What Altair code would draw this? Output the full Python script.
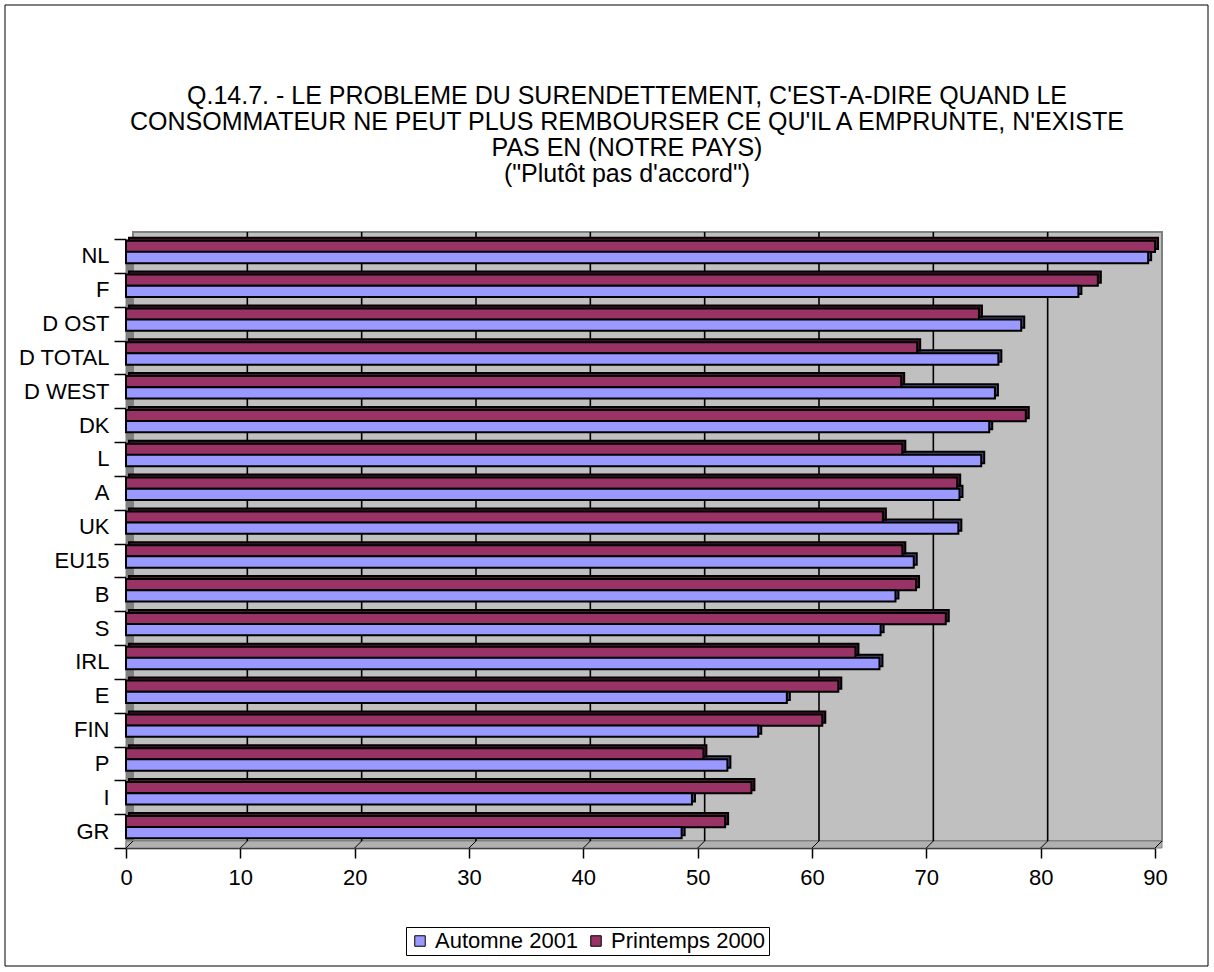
import altair as alt
import pandas as pd

# Survey answers, in percent
categories = ["NL", "F", "D OST", "D TOTAL", "D WEST", "DK", "L", "A", "UK",
              "EU15", "B", "S", "IRL", "E", "FIN", "P", "I", "GR"]
automne_2001 = [89.4, 83.3, 78.3, 76.3, 76.0, 75.5, 74.8, 72.9, 72.8,
                68.9, 67.3, 66.0, 65.9, 57.8, 55.3, 52.6, 49.5, 48.6]
printemps_2000 = [90.0, 85.0, 74.6, 69.2, 67.8, 78.7, 67.9, 72.7, 66.2,
                  67.9, 69.1, 71.7, 63.8, 62.3, 60.9, 50.5, 54.7, 52.4]
series_names = ["Automne 2001", "Printemps 2000"]
series_colors = ["#9999FF", "#993366"]
series_shades = ["#4D4D80", "#4D1A33"]
axis_ticks = [0, 10, 20, 30, 40, 50, 60, 70, 80, 90]

title_lines = [
    "Q.14.7. - LE PROBLEME DU SURENDETTEMENT, C'EST-A-DIRE QUAND LE",
    "CONSOMMATEUR NE PEUT PLUS REMBOURSER CE QU'IL A EMPRUNTE, N'EXISTE",
    "PAS EN (NOTRE PAYS)",
    "(\"Plutôt pas d'accord\")",
]

FONT = "Liberation Sans"
W, H = 1029, 609          # front plane of the plot
DEPTH = 7                 # 3-D depth of the back wall
BAR_H = 11.3              # thickness of one bar
SHIFT = 3                 # depth of a bar

rows = []
for cat, a, p in zip(categories, automne_2001, printemps_2000):
    rows.append({"pays": cat, "serie": series_names[0], "valeur": a})
    rows.append({"pays": cat, "serie": series_names[1], "valeur": p})
df = pd.DataFrame(rows)

x_scale = alt.Scale(domain=[0, 90], nice=False, zero=True)
y_scale = alt.Scale(domain=categories, paddingInner=0, paddingOuter=0)
color_scale = alt.Scale(domain=series_names, range=series_colors)

x_axis = alt.Axis(
    values=axis_ticks, title=None, grid=False, domainColor="black",
    domainWidth=1.5, tickColor="black", tickWidth=1.5, tickSize=10,
    labelFont=FONT, labelFontSize=22, labelColor="black", labelPadding=9,
    labelFlush=False,
)
y_axis = alt.Axis(
    title=None, grid=False, domainColor="black", domainWidth=1.5,
    tickColor="black", tickWidth=1.5, tickSize=12, tickBand="extent",
    labelFont=FONT, labelFontSize=22, labelColor="black", labelPadding=5,
)

one = pd.DataFrame({"k": [0]})

# outer frame around the whole figure
frame = alt.Chart(one).mark_rect(fillOpacity=0, stroke="black", strokeWidth=1).encode(
    x=alt.value(-121), x2=alt.value(1082), y=alt.value(-234), y2=alt.value(727)
)

# chart heading, centred above the plot
heading = alt.Chart(one).mark_text(
    text=title_lines, font=FONT, fontSize=25, lineHeight=26,
    align="center", baseline="top", color="black",
).encode(x=alt.value(501), y=alt.value(-155))

# back wall, left wall and floor of the 3-D box
wall = alt.Chart(one).mark_rect(fill="#C0C0C0", stroke="#808080", strokeWidth=2).encode(
    x=alt.value(DEPTH), x2=alt.value(W + DEPTH), y=alt.value(-DEPTH), y2=alt.value(H - DEPTH)
)
side = alt.Chart(one).mark_rect(fill="#808080").encode(
    x=alt.value(0), x2=alt.value(DEPTH), y=alt.value(0), y2=alt.value(H - DEPTH)
)
floor = alt.Chart(one).mark_rect(fill="#B0B0B0", stroke="#808080", strokeWidth=1).encode(
    x=alt.value(0), x2=alt.value(W + DEPTH), y=alt.value(H - DEPTH), y2=alt.value(H)
)

ticks_df = pd.DataFrame({"t": axis_ticks})
grid = alt.Chart(ticks_df[(ticks_df.t > 0) & (ticks_df.t < 90)]).mark_rule(
    color="black", strokeWidth=1.6, xOffset=DEPTH
).encode(
    x=alt.X("t:Q", scale=x_scale, axis=x_axis),
    y=alt.value(-DEPTH), y2=alt.value(H - DEPTH),
)
floor_ticks = alt.Chart(ticks_df).mark_rule(
    color="black", strokeWidth=1, x2Offset=DEPTH
).encode(
    x=alt.X("t:Q", scale=x_scale, axis=x_axis), x2="t:Q",
    y=alt.value(H), y2=alt.value(H - DEPTH),
)

offsets = {series_names[1]: -9.55, series_names[0]: 1.6}


def bar_layer(name, front):
    off = offsets[name]
    idx = series_names.index(name)
    base = alt.Chart(df).transform_filter(alt.datum.serie == name)
    enc = dict(
        x=alt.X("valeur:Q", scale=x_scale, axis=x_axis),
        y=alt.Y("pays:N", scale=y_scale, sort=categories, axis=y_axis),
    )
    if front:
        mark = base.mark_bar(
            height=BAR_H, yOffset=off, y2Offset=off,
            stroke="black", strokeWidth=2,
        )
        return mark.encode(
            color=alt.Color(
                "serie:N", scale=color_scale,
                legend=alt.Legend(
                    title=None, orient="none", legendX=280, legendY=688,
                    direction="horizontal", symbolType="square", symbolSize=110,
                    symbolStrokeColor="black", symbolStrokeWidth=1,
                    labelFont=FONT, labelFontSize=22, labelColor="black",
                    strokeColor="black", fillColor="white", padding=3,
                    columnPadding=6, labelOffset=4,
                ),
            ),
            **enc,
        )
    mark = base.mark_bar(
        height=BAR_H, yOffset=off - SHIFT, y2Offset=off - SHIFT,
        xOffset=SHIFT, x2Offset=SHIFT,
        fill=series_shades[idx], stroke="black", strokeWidth=2,
    )
    return mark.encode(**enc)


chart = alt.layer(
    frame, heading, wall, side, floor, grid, floor_ticks,
    bar_layer(series_names[0], False),
    bar_layer(series_names[1], False),
    bar_layer(series_names[1], True),
    bar_layer(series_names[0], True),
).properties(
    width=W, height=H,
    padding={"left": 126, "top": 239, "right": 59, "bottom": 124},
    autosize=alt.AutoSizeParams(type="none"),
    background="white",
).configure_view(stroke=None)

chart.save("out.html", embed_options={"renderer": "svg", "actions": False})
